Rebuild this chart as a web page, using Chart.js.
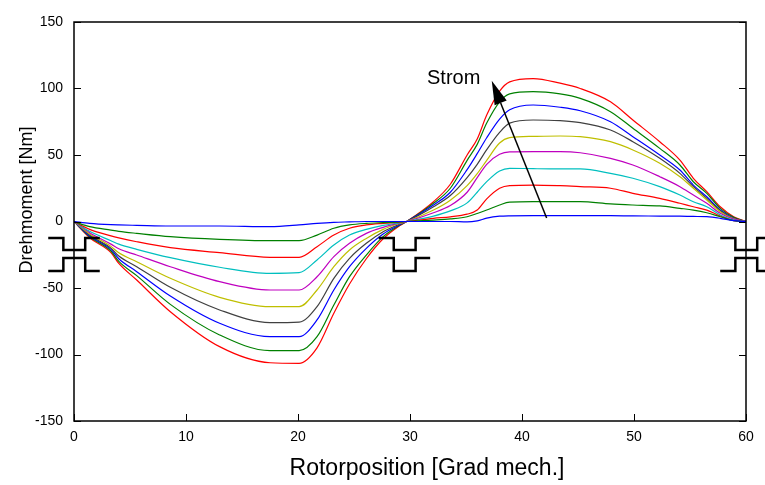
<!DOCTYPE html>
<html>
<head>
<meta charset="utf-8">
<title>Drehmoment über Rotorposition</title>
<script src="https://cdn.jsdelivr.net/npm/chart.js@4.4.1/dist/chart.umd.min.js"></script>
<style>
  html, body { margin: 0; padding: 0; background: #fff; }
  canvas { display: block; }
</style>
</head>
<body>
<canvas id="torque" width="765" height="485"></canvas>
<script>
// Rotorposition in Grad mech.
var rotorPos = [0, 1.4, 3.3, 4.0, 5.6, 8.6, 13, 17.5, 20.1, 21.7, 23.2, 24.6, 26.1, 27.6, 29.1, 29.7,
  32.1, 33.6, 35.1, 36.0, 36.85, 38.0, 38.9, 41.0, 43.4, 45.2, 47.9, 49.9, 52.3, 54.1, 55.3, 56.5, 57.7, 58.9, 60];

// Drehmoment in Nm, eine Kurve je Strom (kleinster zuerst)
var torque1  = [0, -1.4, -2.4, -2.6, -2.9, -3.4, -3.4, -3.9, -2.6, -1.4, -0.6, -0.3, 0, 0, 0, 0,
  0, 0, -0.3, 0.5, 2.5, 4.0, 4.3, 4.4, 4.4, 4.4, 4.4, 4.2, 4.1, 4.0, 3.8, 3.6, 2.4, 0.6, 0];
var torque2  = [0, -3.9, -6.5, -7.4, -8.9, -11.4, -13.4, -14.4, -14.4, -10.2, -5.1, -2.6, -1.4, -0.8, -0.3, 0,
  1.1, 2.0, 3.6, 6.0, 8.6, 12.4, 14.5, 14.9, 14.9, 14.9, 13.2, 12.4, 11.7, 9.9, 8.6, 6.6, 3.6, 0.6, 0];
var torque3  = [0, -5.9, -10.8, -12.3, -15.2, -19.7, -23.4, -26.9, -26.9, -18.9, -10.2, -5.1, -2.6, -1.4, -0.5, 0,
  2.4, 3.5, 5.5, 8.6, 17.0, 25.0, 27.0, 27.4, 26.9, 26.2, 25.0, 21.2, 17.4, 13.7, 11.1, 8.6, 4.1, 0.6, 0];
var torque4  = [0, -7.4, -14.5, -17.0, -20.9, -27.2, -34.4, -39.0, -38.5, -28.9, -17.7, -10.2, -5.9, -2.9, -0.9, 0,
  4.1, 8.0, 14.0, 22.0, 30.0, 38.0, 40.0, 39.7, 39.5, 39.5, 36.2, 32.5, 26.2, 19.9, 14.9, 11.1, 4.9, 1.1, 0];
var torque5  = [0, -8.4, -17.0, -20.5, -25.2, -34.0, -45.2, -51.5, -51.5, -41.5, -26.4, -16.4, -8.9, -4.4, -1.1, 0,
  6.6, 12.0, 22.0, 33.0, 43.0, 50.5, 52.3, 52.5, 52.5, 51.7, 47.5, 42.5, 33.7, 26.2, 19.9, 13.7, 6.2, 1.8, 0];
var torque6  = [0, -9.4, -18.7, -23.5, -30.2, -42.7, -57.0, -64.0, -64.0, -51.5, -34.0, -21.4, -12.7, -5.9, -1.4, 0,
  8.6, 16.0, 27.0, 36.0, 46.0, 59.0, 63.0, 64.0, 64.3, 63.8, 60.0, 53.8, 43.8, 33.7, 25.0, 16.2, 7.4, 2.0, 0];
var torque7  = [0, -10.2, -20.0, -26.0, -34.0, -49.5, -66.5, -76.0, -75.6, -64.0, -42.7, -27.7, -16.4, -7.7, -1.9, 0,
  11.1, 19.5, 33.0, 43.0, 54.0, 67.0, 74.0, 76.3, 75.8, 74.3, 68.8, 60.0, 47.5, 36.2, 26.2, 17.4, 8.1, 2.3, 0];
var torque8  = [0, -10.9, -21.0, -28.0, -37.7, -56.0, -76.5, -86.6, -86.6, -74.0, -51.5, -34.0, -20.2, -9.4, -2.4, 0,
  12.4, 22.0, 39.0, 51.0, 63.0, 77.0, 84.0, 87.6, 85.9, 83.3, 75.0, 63.8, 50.0, 38.7, 27.4, 18.6, 8.6, 2.5, 0];
var torque9  = [0, -11.4, -22.2, -30.0, -40.7, -62.3, -85.3, -97.1, -97.1, -86.6, -62.8, -41.5, -25.2, -11.4, -2.6, 0,
  13.7, 25.0, 46.0, 58.0, 74.0, 90.0, 96.0, 97.6, 95.9, 92.6, 82.6, 70.1, 55.0, 42.5, 29.9, 21.2, 9.9, 3.1, 0];
var torque10 = [0, -12.2, -23.4, -31.5, -44.0, -67.8, -94.1, -106.2, -106.6, -95.0, -69.0, -47.0, -28.0, -13.0, -3.0, 0,
  14.9, 28.0, 50.0, 62.0, 80.0, 98.0, 105.0, 107.5, 104.0, 100.0, 90.0, 76.3, 60.0, 46.2, 32.5, 22.4, 11.1, 3.6, 0];

var curves = [torque1, torque2, torque3, torque4, torque5, torque6, torque7, torque8, torque9, torque10];
var lineColors = ['#0000ff', '#008000', '#ff0000', '#00bfbf', '#bf00bf', '#bfbf00', '#404040', '#0000ff', '#008000', '#ff0000'];

var xTickValues = [0, 10, 20, 30, 40, 50, 60];
var yTickValues = [-150, -100, -50, 0, 50, 100, 150];

var xTitle = 'Rotorposition [Grad mech.]';
var yTitle = 'Drehmoment [Nm]';

var fontFamily = '"Liberation Sans", Arial, Helvetica, sans-serif';
Chart.defaults.font.family = fontFamily;
Chart.defaults.color = '#000';

// Nut-/Zahnsymbole (Stator oben, Rotor unten) bei 0, 30 und 60 Grad
function toothOpenUp(c) {
  return [[c - 2.3, -37.2], [c - 0.95, -37.2], [c - 0.95, -27.4], [c + 1.0, -27.4], [c + 1.0, -37.2], [c + 2.3, -37.2]];
}
function toothOpenDown(c, yTop, yBot) {
  return [[c - 2.3, yTop], [c - 0.95, yTop], [c - 0.95, yBot], [c + 1.0, yBot], [c + 1.0, yTop], [c + 2.3, yTop]];
}
var toothShapes = [
  toothOpenDown(0, -12.4, -21.4), toothOpenUp(0),
  toothOpenDown(29.5, -12.4, -21.4), toothOpenDown(29.5, -27.4, -37.2),
  toothOpenDown(60, -12.4, -21.4), toothOpenUp(60)
];

var framePlugin = {
  id: 'frame',
  afterDatasetsDraw: function(chart) {
    var ctx = chart.ctx, a = chart.chartArea;
    var sx = chart.scales.x, sy = chart.scales.y;
    ctx.save();

    // Rahmen
    ctx.strokeStyle = '#000';
    ctx.lineWidth = 1.5;
    ctx.strokeRect(a.left, a.top, a.right - a.left, a.bottom - a.top);

    // Ticks nach innen
    ctx.lineWidth = 1;
    ctx.beginPath();
    sy.ticks.forEach(function(t) {
      var y = Math.round(sy.getPixelForValue(t.value)) + 0.5;
      ctx.moveTo(a.left, y); ctx.lineTo(a.left + 7, y);
      ctx.moveTo(a.right, y); ctx.lineTo(a.right - 7, y);
    });
    sx.ticks.forEach(function(t) {
      var x = Math.round(sx.getPixelForValue(t.value)) + 0.5;
      ctx.moveTo(x, a.bottom); ctx.lineTo(x, a.bottom - 7);
    });
    ctx.stroke();

    // Zahnsymbole
    ctx.lineWidth = 2.5;
    ctx.lineJoin = 'miter';
    toothShapes.forEach(function(shape) {
      ctx.beginPath();
      shape.forEach(function(p, i) {
        var px = sx.getPixelForValue(p[0]), py = sy.getPixelForValue(p[1]);
        if (i === 0) ctx.moveTo(px, py); else ctx.lineTo(px, py);
      });
      ctx.stroke();
    });

    // Pfeil "Strom"
    var x0 = sx.getPixelForValue(42.2), y0 = sy.getPixelForValue(2.6);
    var x1 = sx.getPixelForValue(37.3), y1 = sy.getPixelForValue(105.9);
    var ang = Math.atan2(y1 - y0, x1 - x0);
    var headLen = 24, headW = 6.5;
    var bx = x1 - headLen * Math.cos(ang), by = y1 - headLen * Math.sin(ang);
    ctx.lineWidth = 1.5;
    ctx.beginPath();
    ctx.moveTo(x0, y0);
    ctx.lineTo(bx, by);
    ctx.stroke();
    ctx.fillStyle = '#000';
    ctx.beginPath();
    ctx.moveTo(x1, y1);
    ctx.lineTo(bx + headW * Math.sin(ang), by - headW * Math.cos(ang));
    ctx.lineTo(bx - headW * Math.sin(ang), by + headW * Math.cos(ang));
    ctx.closePath();
    ctx.fill();

    ctx.font = '20px ' + fontFamily;
    ctx.textAlign = 'center';
    ctx.textBaseline = 'middle';
    ctx.fillText('Strom', sx.getPixelForValue(33.9), sy.getPixelForValue(107.9));

    // Achsbeschriftungen
    ctx.font = '23px ' + fontFamily;
    ctx.fillText(xTitle, a.left + 353, chart.height - 16);
    ctx.save();
    ctx.translate(27, a.top + 178);
    ctx.rotate(-Math.PI / 2);
    ctx.font = '18px ' + fontFamily;
    ctx.fillText(yTitle, 0, 0);
    ctx.restore();

    ctx.restore();
  }
};

var chart = new Chart(document.getElementById('torque'), {
  type: 'line',
  data: {
    labels: rotorPos,
    datasets: curves.map(function(vals, i) {
      return {
        label: 'I' + (i + 1),
        data: vals.map(function(v, k) { return {x: rotorPos[k], y: v}; }),
        borderColor: lineColors[i],
        backgroundColor: lineColors[i],
        borderWidth: 1.2,
        pointRadius: 0,
        fill: false,
        cubicInterpolationMode: 'monotone'
      };
    })
  },
  options: {
    responsive: false,
    animation: false,
    events: [],
    layout: { padding: { top: 22, right: 19, left: 0, bottom: 0 } },
    plugins: { legend: { display: false }, tooltip: { enabled: false } },
    scales: {
      x: {
        type: 'linear',
        min: 0, max: 60,
        afterBuildTicks: function(scale) { scale.ticks = xTickValues.map(function(v) { return {value: v}; }); },
        afterFit: function(scale) { scale.height = 64; },
        grid: { display: false, drawTicks: false },
        border: { display: false },
        ticks: { font: { size: 14 }, padding: 8, maxRotation: 0 }
      },
      y: {
        type: 'linear',
        min: -150, max: 150,
        afterBuildTicks: function(scale) { scale.ticks = yTickValues.map(function(v) { return {value: v}; }); },
        afterFit: function(scale) { scale.width = 74; },
        grid: { display: false, drawTicks: false },
        border: { display: false },
        ticks: { font: { size: 14 }, padding: 11 }
      }
    }
  },
  plugins: [framePlugin]
});
</script>
</body>
</html>
